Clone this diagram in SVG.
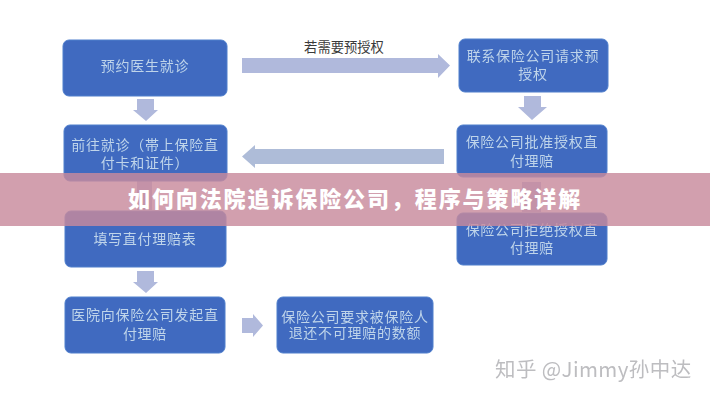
<svg xmlns="http://www.w3.org/2000/svg" width="710" height="400" viewBox="0 0 710 400">
<style>
.n{fill:#3f6bc0;stroke:#4f7fcc;stroke-width:1}
.t{font-family:"Noto Sans CJK SC","Liberation Sans",sans-serif;font-size:14px;letter-spacing:.75px;fill:#bfd4ea;text-anchor:middle}
.a{fill:#b0b9dc}
.g{fill:#aebcd8}
.w{font-family:"Noto Sans CJK SC","Liberation Sans",sans-serif;font-size:20.500px;letter-spacing:.4px;fill:#bdbdc0}
.b{font-family:"Noto Sans CJK SC","Liberation Sans",sans-serif;font-size:13.300px;fill:#3a3a3a}
.title{font-family:"Noto Sans CJK SC","Liberation Sans",sans-serif;font-size:22px;font-weight:900;fill:#fff;letter-spacing:1.900px}
</style>
<defs><filter id="s" x="-5%" y="-5%" width="110%" height="110%"><feGaussianBlur stdDeviation="0.6"/></filter></defs>
<rect width="710" height="400" fill="#fff"/>
<g id="connectors" filter="url(#s)">
<path class="a" d="M242 58H438V54L450 65.500L438 78V73H242Z"/>
<path class="g" d="M444 149H255V145L242 156.500L255 168V164H444Z"/>
<path class="a" d="M137 99H154V110H158L146 121L133 110H137Z"/>
<path class="a" d="M524 96H541V107H547L532 120L518 107H524Z"/>
<path class="a" d="M137 180H152V210H137Z"/>
<path class="a" d="M522 182H541V212H522Z"/>
<path class="a" d="M137 271H154V282H158L146 293L133 282H137Z"/>
<path class="a" d="M242 318H253V314L263 325.500L253 337V333H242Z"/>
</g>
<g id="n1" filter="url(#s)"><rect class="n" x="63" y="40" width="164" height="56" rx="6"/><text class="t" x="145" y="71">预约医生就诊</text></g>
<g id="n2" filter="url(#s)"><rect class="n" x="64" y="125" width="163" height="56" rx="6"/><text class="t" x="145" y="150">前往就诊（帯上保险直</text><text class="t" x="145" y="168">付卡和证件）</text></g>
<g id="n3" filter="url(#s)"><rect class="n" x="65" y="211" width="161" height="56" rx="6"/><text class="t" x="145" y="244">填写直付理赔表</text></g>
<g id="n4" filter="url(#s)"><rect class="n" x="65" y="297" width="160" height="56" rx="6"/><text class="t" x="145" y="320">医院向保险公司发起直</text><text class="t" x="145" y="339">付理赔</text></g>
<g id="n5" filter="url(#s)"><rect class="n" x="277" y="297" width="156" height="56" rx="6"/><text class="t" x="355" y="322">保险公司要求被保险人</text><text class="t" x="355" y="338">退还不可理赔的数额</text></g>
<g id="n6" filter="url(#s)"><rect class="n" x="459" y="39" width="149" height="53" rx="6"/><text class="t" x="533" y="61">联系保险公司请求预</text><text class="t" x="533" y="79">授权</text></g>
<g id="n7" filter="url(#s)"><rect class="n" x="457" y="125" width="150" height="52" rx="6"/><text class="t" x="532" y="147">保险公司批准授权直</text><text class="t" x="532" y="166">付理赔</text></g>
<g id="n8" filter="url(#s)"><rect class="n" x="457" y="213" width="150" height="52" rx="6"/><text class="t" x="532" y="235">保险公司拒绝授权直</text><text class="t" x="532" y="253">付理赔</text></g>
<text class="b" x="344" y="52" text-anchor="middle">若需要预授权</text>
<text class="w" x="495" y="377" filter="url(#s)">知乎 @Jimmy孙中达</text>
<rect x="0" y="173" width="710" height="53" fill="#c88a9c" fill-opacity="0.82"/>
<text class="title" x="128" y="207">如何向法院追诉保险公司，程序与策略详解</text>
</svg>
